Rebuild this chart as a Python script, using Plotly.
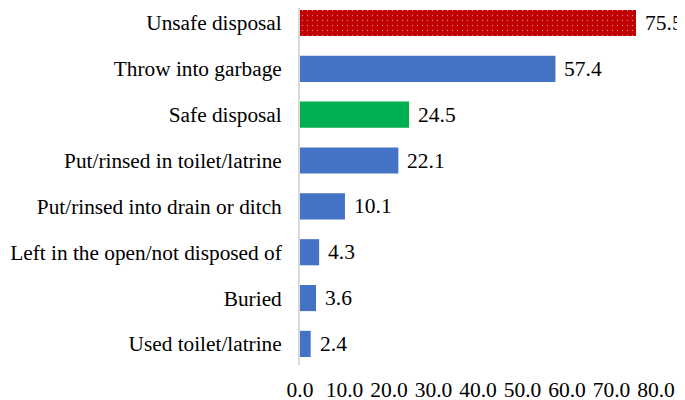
import plotly.graph_objects as go

categories = ["Unsafe disposal", "Throw into garbage", "Safe disposal",
              "Put/rinsed in toilet/latrine", "Put/rinsed into drain or ditch",
              "Left in the open/not disposed of", "Buried", "Used toilet/latrine"]
values = [75.5, 57.4, 24.5, 22.1, 10.1, 4.3, 3.6, 2.4]
colors = ["#c00000", "#4472c4", "#00b050", "#4472c4", "#4472c4", "#4472c4", "#4472c4", "#4472c4"]
patterns = [".", "", "", "", "", "", "", ""]
tick_vals = [0, 10, 20, 30, 40, 50, 60, 70, 80]
tick_text = ["0.0", "10.0", "20.0", "30.0", "40.0", "50.0", "60.0", "70.0", "80.0"]

FONT = "Liberation Serif"
FS = 22

fig = go.Figure(go.Bar(
    x=values, y=categories, orientation="h",
    marker=dict(color=colors, line=dict(width=0),
                pattern=dict(shape=patterns, fgcolor="#6a0000", size=5, solidity=0.05)),
    width=0.57,
    cliponaxis=False,
))

for v, c in zip(values, categories):
    fig.add_annotation(x=v, y=c, text=f"{v:.1f}", showarrow=False,
                       xanchor="left", xshift=7,
                       font=dict(family=FONT, size=21.5, color="black"))

fig.update_layout(
    width=677, height=392,
    margin=dict(l=292, r=29, t=0, b=35, autoexpand=False),
    paper_bgcolor="white", plot_bgcolor="white",
    font=dict(family=FONT, size=FS, color="black"),
    showlegend=False,
)
fig.update_xaxes(range=[0, 80], tickvals=tick_vals, ticktext=tick_text,
                 showgrid=False, zeroline=False, showline=False,
                 ticks="", tickfont=dict(family=FONT, size=21.5), ticklabelstandoff=9)
fig.update_yaxes(range=[7.46, -0.327], showgrid=False, zeroline=False,
                 showline=True, linecolor="#d9d9d9", linewidth=2,
                 ticks="", ticklabelstandoff=12, tickfont=dict(family=FONT, size=21.3))

fig.write_html("out.html")
